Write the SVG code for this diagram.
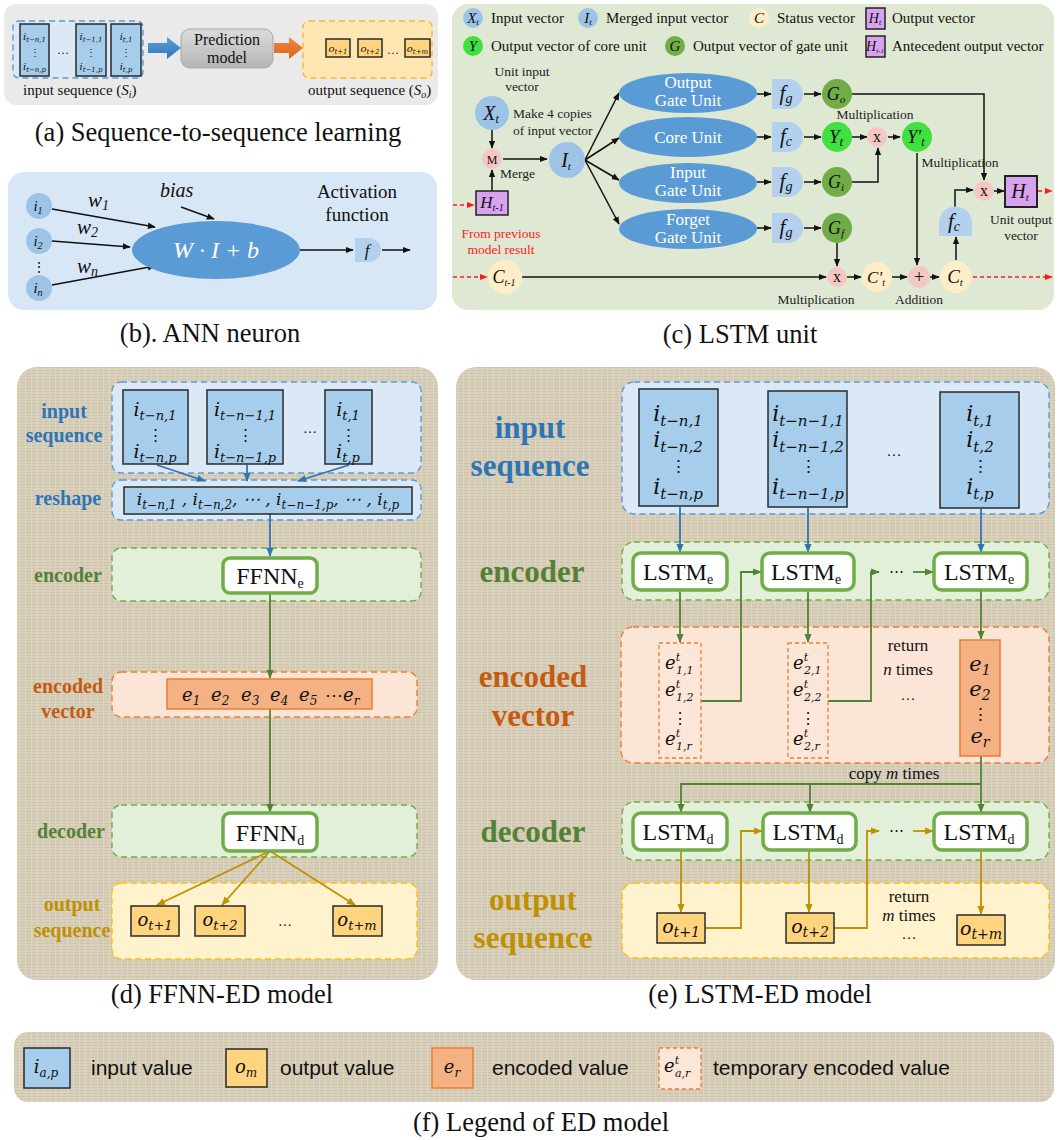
<svg xmlns="http://www.w3.org/2000/svg" width="1058" height="1140" viewBox="0 0 1058 1140">
<defs>
<style>
text{fill:#111}
.t{font-family:"Liberation Serif","Times New Roman",serif}
.mi{font-family:"DejaVu Serif",serif;font-style:italic}
.ti{font-family:"Liberation Serif",serif;font-style:italic}
.title{font-family:"Liberation Serif",serif;font-size:26.5px;text-anchor:middle}
.c{text-anchor:middle}
.lg{font-family:"Liberation Serif",serif;font-size:15px}
.sm{font-family:"Liberation Serif",serif;font-size:13.5px;fill:#222}
.ld{font-family:"Liberation Serif",serif;font-weight:bold;font-size:20px;text-anchor:middle}
.le{font-family:"Liberation Serif",serif;font-weight:bold;font-size:31px;text-anchor:middle}
.fl{font-family:"Liberation Sans",Arial,sans-serif;font-size:21px}
.blu{fill:#2e75b6}.grn{fill:#548235}.org{fill:#c55a11}.gld{fill:#bf9000}.red{fill:#ff1a1a}.wht{fill:#fff}
.cellb{fill:#a6cdeb;stroke:#2a2a2a;stroke-width:1.5}
.celly{fill:#ffd47e;stroke:#2a2a2a;stroke-width:1.5}
.cello{fill:#f4b183;stroke:#ed7d31;stroke-width:1.5}
.cellt{fill:#fce6d8;stroke:#ed7d31;stroke-width:1.3;stroke-dasharray:4 3}
.zb{fill:#dbe8f6;stroke:#5b9bd5;stroke-width:1.4;stroke-dasharray:6 4}
.zg{fill:#e2efd9;stroke:#70ad47;stroke-width:1.4;stroke-dasharray:6 4}
.zo{fill:#fbe5d6;stroke:#ed7d31;stroke-width:1.4;stroke-dasharray:6 4}
.zy{fill:#fff2cc;stroke:#ffc000;stroke-width:1.4;stroke-dasharray:6 4}
.lstm{fill:#fff;stroke:#70ad47;stroke-width:3.5}
.k{fill:none;stroke:#111;stroke-width:1.5}
.cb{fill:none;stroke:#2e75b6;stroke-width:1.8}
.cg{fill:none;stroke:#548235;stroke-width:1.8}
.cy{fill:none;stroke:#bf9000;stroke-width:1.8}
.rd{fill:none;stroke:#ff1a1a;stroke-width:1.5;stroke-dasharray:4 3}
.vec{fill:#9dc3e6}
.pk{fill:#f4c7c3}
.st{fill:#fdeec8}
.gg{fill:#70ad47}
.gy{fill:#3fe03f}
.hp{fill:#d9a2ee;stroke:#222;stroke-width:1.5}
.fb{fill:#b4d0ef}
.ell{fill:#5b9bd5}
</style>
<marker id="ak" viewBox="0 0 10 10" refX="9" refY="5" markerWidth="8" markerHeight="8" markerUnits="userSpaceOnUse" orient="auto"><path d="M0,1 L10,5 L0,9 z" fill="#111"/></marker>
<marker id="ab" viewBox="0 0 10 10" refX="9" refY="5" markerWidth="9" markerHeight="9" markerUnits="userSpaceOnUse" orient="auto"><path d="M0,1 L10,5 L0,9 z" fill="#2e75b6"/></marker>
<marker id="ag" viewBox="0 0 10 10" refX="9" refY="5" markerWidth="9" markerHeight="9" markerUnits="userSpaceOnUse" orient="auto"><path d="M0,1 L10,5 L0,9 z" fill="#548235"/></marker>
<marker id="ay" viewBox="0 0 10 10" refX="9" refY="5" markerWidth="9" markerHeight="9" markerUnits="userSpaceOnUse" orient="auto"><path d="M0,1 L10,5 L0,9 z" fill="#bf9000"/></marker>
<marker id="ar" viewBox="0 0 10 10" refX="9" refY="5" markerWidth="8" markerHeight="8" markerUnits="userSpaceOnUse" orient="auto"><path d="M0,1 L10,5 L0,9 z" fill="#ff1a1a"/></marker>
<pattern id="burlap" width="6" height="6" patternUnits="userSpaceOnUse">
<rect width="6" height="6" fill="#d8cfbb"/>
<path d="M0,1.5H6M0,4.5H6" stroke="#cdc3ac" stroke-width="0.9"/>
<path d="M1.5,0V6" stroke="#e0d8c6" stroke-width="0.7"/>
</pattern>
<linearGradient id="gpred" x1="0" y1="0" x2="0" y2="1"><stop offset="0" stop-color="#dcdcdc"/><stop offset="1" stop-color="#b5b5b5"/></linearGradient>
<linearGradient id="gblue" x1="0" y1="0" x2="0" y2="1"><stop offset="0" stop-color="#5ea2dc"/><stop offset="1" stop-color="#2f74b5"/></linearGradient>
<linearGradient id="gorg" x1="0" y1="0" x2="0" y2="1"><stop offset="0" stop-color="#f28a40"/><stop offset="1" stop-color="#d9621c"/></linearGradient>
</defs>

<rect width="1058" height="1140" fill="#fff"/>

<!-- (a) sequence-to-sequence learning -->
<g id="panel-a">
<rect x="4" y="4" width="434" height="101" rx="12" fill="#eaeaea"/>
<g id="a-input">
<rect class="zb" x="13" y="21" width="130" height="57" rx="6"/>
<rect class="cellb" x="20" y="24" width="29" height="52"/>
<rect class="cellb" x="76" y="24" width="30" height="52"/>
<rect class="cellb" x="111" y="24" width="30" height="52"/>
<text class="mi c" x="34.5" y="40" font-size="10">i<tspan font-size="7" dy="2">t−n,1</tspan></text>
<text class="t c" x="34.5" y="56" font-size="10">⋮</text>
<text class="mi c" x="34.5" y="70" font-size="10">i<tspan font-size="7" dy="2">t−n,p</tspan></text>
<text class="t c" x="63" y="54" font-size="12" fill="#444">…</text>
<text class="mi c" x="91" y="40" font-size="10">i<tspan font-size="7" dy="2">t−1,1</tspan></text>
<text class="t c" x="91" y="56" font-size="10">⋮</text>
<text class="mi c" x="91" y="70" font-size="10">i<tspan font-size="7" dy="2">t−1,p</tspan></text>
<text class="mi c" x="126" y="40" font-size="10">i<tspan font-size="7" dy="2">t,1</tspan></text>
<text class="t c" x="126" y="56" font-size="10">⋮</text>
<text class="mi c" x="126" y="70" font-size="10">i<tspan font-size="7" dy="2">t,p</tspan></text>
<text class="t" x="23" y="95" font-size="15">input sequence (<tspan class="ti">S</tspan><tspan class="ti" font-size="10" dy="3">i</tspan><tspan dy="-3">)</tspan></text>
</g>
<polygon id="a-arrow-in" points="148,43 167,43 167,37 181,48 167,59 167,53 148,53" fill="url(#gblue)"/>
<g id="a-model">
<rect x="181" y="29" width="92" height="39" rx="9" fill="url(#gpred)" stroke="#a8a8a8"/>
<text class="t c" x="227" y="45" font-size="16">Prediction</text>
<text class="t c" x="227" y="63" font-size="16">model</text>
</g>
<polygon id="a-arrow-out" points="274,43 289,43 289,37 303,48 289,59 289,53 274,53" fill="url(#gorg)"/>
<g id="a-output">
<rect class="zy" x="303" y="21" width="129" height="57" rx="6" style="fill:#fde6b2;stroke:#f8bb28"/>
<rect class="celly" x="326" y="39" width="24" height="18"/>
<rect class="celly" x="358" y="39" width="24" height="18"/>
<rect class="celly" x="405" y="39" width="25" height="18"/>
<text class="mi c" x="338" y="52" font-size="10">o<tspan font-size="7" dy="2">t+1</tspan></text>
<text class="mi c" x="370" y="52" font-size="10">o<tspan font-size="7" dy="2">t+2</tspan></text>
<text class="mi c" x="417.5" y="52" font-size="10">o<tspan font-size="7" dy="2">t+m</tspan></text>
<text class="t c" x="393" y="54" font-size="12" fill="#444">…</text>
<text class="t" x="308" y="95" font-size="15">output sequence (<tspan class="ti">S</tspan><tspan class="ti" font-size="10" dy="3">o</tspan><tspan dy="-3">)</tspan></text>
</g>
<text class="title" x="218" y="141">(a) Sequence-to-sequence learning</text>
</g>

<!-- (b) ANN neuron -->
<g id="panel-b">
<rect x="8" y="172" width="429" height="138" rx="16" fill="#d8e7f5"/>
<g id="b-connectors">
<path class="k" d="M52,209 L155,227" marker-end="url(#ak)"/>
<path class="k" d="M52,241 L130,247" marker-end="url(#ak)"/>
<path class="k" d="M52,285 L155,266" marker-end="url(#ak)"/>
<path class="k" d="M181,207 L214,219" marker-end="url(#ak)"/>
<path class="k" d="M300,250 L353,250" marker-end="url(#ak)"/>
<path class="k" d="M382,250 L410,250" marker-end="url(#ak)"/>
</g>
<g id="b-inputs">
<circle class="vec" cx="39" cy="206" r="13"/>
<circle class="vec" cx="39" cy="241" r="13"/>
<circle class="vec" cx="39" cy="288" r="13"/>
<text class="ti c" x="38" y="211" font-size="15">i<tspan font-size="10" dy="3">1</tspan></text>
<text class="ti c" x="38" y="246" font-size="15">i<tspan font-size="10" dy="3">2</tspan></text>
<text class="ti c" x="38" y="293" font-size="15">i<tspan font-size="10" dy="3">n</tspan></text>
<text class="t c" x="39" y="272" font-size="14" fill="#666">⋮</text>
</g>
<text class="ti" x="88" y="207" font-size="21">w<tspan class="t" font-size="14" dy="3">1</tspan></text>
<text class="ti" x="77" y="234" font-size="21">w<tspan class="t" font-size="14" dy="3">2</tspan></text>
<text class="ti" x="77" y="273" font-size="21">w<tspan font-size="14" dy="3">n</tspan></text>
<text class="ti" x="160" y="197" font-size="20">bias</text>
<g id="b-neuron">
<ellipse class="ell" cx="216" cy="250" rx="84" ry="29"/>
<text class="ti c wht" x="216" y="258" font-size="24">W · I + b</text>
</g>
<text class="t c" x="357" y="198" font-size="19">Activation</text>
<text class="t c" x="357" y="221" font-size="19">function</text>
<g id="b-activation">
<path class="fb" d="M355,238 h14 a12,12 0 0 1 0,24 h-14 z"/>
<text class="ti c" x="367" y="256" font-size="17">f</text>
</g>
<text class="title" x="210" y="342">(b). ANN neuron</text>
</g>

<!-- (c) LSTM unit -->
<g id="panel-c">
<rect x="452" y="4" width="602" height="306" rx="16" fill="#dfe8d2"/>
<g id="c-legend">
<circle class="vec" cx="473" cy="18" r="10"/>
<text class="ti c" x="473" y="23" font-size="15">X<tspan class="t" font-size="9" dy="2">t</tspan></text>
<text class="lg" x="491" y="23">Input vector</text>
<circle class="vec" cx="588" cy="18" r="10"/>
<text class="ti c" x="588" y="23" font-size="15">I<tspan class="t" font-size="9" dy="2">t</tspan></text>
<text class="lg" x="606" y="23">Merged input vector</text>
<circle class="st" cx="759" cy="18" r="10"/>
<text class="ti c" x="759" y="23" font-size="15">C</text>
<text class="lg" x="777" y="23">Status vector</text>
<rect class="hp" x="866" y="8" width="19" height="21"/>
<text class="ti c" x="875" y="23" font-size="14">H<tspan font-size="8" dy="2">t</tspan></text>
<text class="lg" x="892" y="23">Output vector</text>
<circle class="gy" cx="473" cy="46" r="10"/>
<text class="ti c" x="473" y="51" font-size="15">Y</text>
<text class="lg" x="491" y="51">Output vector of core unit</text>
<circle class="gg" cx="675" cy="46" r="10"/>
<text class="ti c" x="675" y="51" font-size="15">G</text>
<text class="lg" x="693" y="51">Output vector of gate unit</text>
<rect class="hp" x="866" y="36" width="19" height="21"/>
<text class="ti c" x="875" y="51" font-size="14">H<tspan font-size="7" dy="2">t-1</tspan></text>
<text class="lg" x="892" y="51">Antecedent output vector</text>
</g>

<g id="c-connectors">
<path class="k" d="M492,130 V148" marker-end="url(#ak)"/>
<path class="k" d="M492,191 V170" marker-end="url(#ak)"/>
<path class="rd" d="M453,205 H474" marker-end="url(#ar)"/>
<path class="k" d="M503,159 H547" marker-end="url(#ak)"/>
<path class="k" d="M585,160 L619,93" marker-end="url(#ak)"/>
<path class="k" d="M585,160 L619,138" marker-end="url(#ak)"/>
<path class="k" d="M585,160 L619,180" marker-end="url(#ak)"/>
<path class="k" d="M585,160 L619,224" marker-end="url(#ak)"/>
<path class="k" d="M757,94 H771" marker-end="url(#ak)"/>
<path class="k" d="M757,137 H771" marker-end="url(#ak)"/>
<path class="k" d="M757,182 H771" marker-end="url(#ak)"/>
<path class="k" d="M757,228 H771" marker-end="url(#ak)"/>
<path class="k" d="M804,94 H821" marker-end="url(#ak)"/>
<path class="k" d="M804,137 H821" marker-end="url(#ak)"/>
<path class="k" d="M804,182 H821" marker-end="url(#ak)"/>
<path class="k" d="M804,228 H821" marker-end="url(#ak)"/>
<path class="k" d="M852,137 H867" marker-end="url(#ak)"/>
<path class="k" d="M888,137 H900" marker-end="url(#ak)"/>
<path class="k" d="M852,182 H878 V148" marker-end="url(#ak)"/>
<path class="k" d="M852,94 H984 V180" marker-end="url(#ak)"/>
<path class="k" d="M994,191 H1004" marker-end="url(#ak)"/>
<path class="rd" d="M1038,191 H1052" marker-end="url(#ar)"/>
<path class="k" d="M955,207 V190 H973" marker-end="url(#ak)"/>
<path class="k" d="M956,260 V237" marker-end="url(#ak)"/>
<path class="rd" d="M453,277 H487" marker-end="url(#ar)"/>
<path class="k" d="M522,277 H826" marker-end="url(#ak)"/>
<path class="k" d="M837,243 V266" marker-end="url(#ak)"/>
<path class="k" d="M847,277 H861" marker-end="url(#ak)"/>
<path class="k" d="M892,277 H907" marker-end="url(#ak)"/>
<path class="k" d="M917,153 V265" marker-end="url(#ak)"/>
<path class="k" d="M930,277 H939" marker-end="url(#ak)"/>
<path class="rd" d="M973,277 H1052" marker-end="url(#ar)"/>
</g>

<text class="sm c" x="522" y="76">Unit input</text>
<text class="sm c" x="522" y="91">vector</text>
<g id="c-xt"><circle class="vec" cx="492" cy="113" r="17"/><text class="ti c" x="491" y="120" font-size="20">X<tspan class="t" font-size="12" dy="3">t</tspan></text></g>
<text class="sm" x="513" y="118">Make 4 copies</text>
<text class="sm" x="513" y="135">of input vector</text>
<g id="c-merge"><circle class="pk" cx="492" cy="159" r="10"/><text class="t c" x="492" y="164" font-size="12">M</text></g>
<text class="sm" x="500" y="178">Merge</text>
<g id="c-hprev"><rect class="hp" x="476" y="191" width="32" height="24"/><text class="ti c" x="492" y="208" font-size="17">H<tspan font-size="10" dy="3">t-1</tspan></text></g>
<text class="sm c red" x="501" y="238">From previous</text>
<text class="sm c red" x="501" y="254">model result</text>
<g id="c-it"><circle class="vec" cx="567" cy="160" r="18"/><text class="ti c" x="566" y="167" font-size="20">I<tspan font-size="11" dy="3">t</tspan></text></g>

<g id="c-gate-o"><ellipse class="ell" cx="688" cy="93" rx="69" ry="20"/><text class="t c wht" x="688" y="88" font-size="17">Output</text><text class="t c wht" x="688" y="106" font-size="17">Gate Unit</text></g>
<g id="c-core"><ellipse class="ell" cx="688" cy="137" rx="69" ry="20"/><text class="t c wht" x="688" y="143" font-size="17">Core Unit</text></g>
<g id="c-gate-i"><ellipse class="ell" cx="688" cy="183" rx="69" ry="20"/><text class="t c wht" x="688" y="178" font-size="17">Input</text><text class="t c wht" x="688" y="196" font-size="17">Gate Unit</text></g>
<g id="c-gate-f"><ellipse class="ell" cx="688" cy="229" rx="69" ry="20"/><text class="t c wht" x="688" y="225" font-size="17">Forget</text><text class="t c wht" x="688" y="243" font-size="17">Gate Unit</text></g>

<g id="c-f1"><path class="fb" d="M772,79 h16 a15,15 0 0 1 0,30 h-16 z"/><text class="ti c" x="786" y="100" font-size="21">f<tspan font-size="14" dy="3">g</tspan></text></g>
<g id="c-f2"><path class="fb" d="M772,122 h16 a15,15 0 0 1 0,30 h-16 z"/><text class="ti c" x="786" y="143" font-size="21">f<tspan font-size="14" dy="3">c</tspan></text></g>
<g id="c-f3"><path class="fb" d="M772,167 h16 a15,15 0 0 1 0,30 h-16 z"/><text class="ti c" x="786" y="188" font-size="21">f<tspan font-size="14" dy="3">g</tspan></text></g>
<g id="c-f4"><path class="fb" d="M772,213 h16 a15,15 0 0 1 0,30 h-16 z"/><text class="ti c" x="786" y="234" font-size="21">f<tspan font-size="14" dy="3">g</tspan></text></g>

<g id="c-go"><circle class="gg" cx="837" cy="94" r="15"/><text class="ti c" x="836" y="100" font-size="18">G<tspan font-size="11" dy="3">o</tspan></text></g>
<g id="c-yt"><circle class="gy" cx="837" cy="137" r="15"/><text class="ti c" x="836" y="143" font-size="19">Y<tspan font-size="13" dy="3">t</tspan></text></g>
<g id="c-gi"><circle class="gg" cx="837" cy="182" r="15"/><text class="ti c" x="836" y="188" font-size="18">G<tspan font-size="11" dy="3">i</tspan></text></g>
<g id="c-gf"><circle class="gg" cx="837" cy="228" r="15"/><text class="ti c" x="836" y="234" font-size="18">G<tspan font-size="11" dy="3">f</tspan></text></g>
<g id="c-mul1"><circle class="pk" cx="877" cy="137" r="10"/><text class="t c" x="877" y="142" font-size="16">x</text></g>
<text class="sm c" x="875" y="119">Multiplication</text>
<g id="c-yt2"><circle class="gy" cx="917" cy="137" r="15"/><text class="ti c" x="916" y="143" font-size="18">Y′<tspan font-size="12" dy="3">t</tspan></text></g>
<text class="sm c" x="960" y="167">Multiplication</text>
<g id="c-mul2"><circle class="pk" cx="984" cy="191" r="10"/><text class="t c" x="984" y="196" font-size="16">x</text></g>
<g id="c-ht"><rect class="hp" x="1005" y="176" width="32" height="31" style="stroke-width:2"/><text class="ti c" x="1020" y="198" font-size="20">H<tspan font-size="11" dy="3">t</tspan></text></g>
<text class="sm c" x="1021" y="224">Unit output</text>
<text class="sm c" x="1021" y="240">vector</text>
<g id="c-fc"><path class="fb" d="M939,236 v-13 a16.5,16.5 0 0 1 33,0 v13 z"/><text class="ti c" x="954" y="228" font-size="21">f<tspan font-size="14" dy="3">c</tspan></text></g>
<g id="c-ct1"><circle class="st" cx="505" cy="277" r="17"/><text class="ti c" x="504" y="283" font-size="18">C<tspan font-size="10" dy="3">t-1</tspan></text></g>
<g id="c-mul3"><circle class="pk" cx="837" cy="277" r="10"/><text class="t c" x="837" y="282" font-size="16">x</text></g>
<g id="c-ctp"><circle class="st" cx="877" cy="277" r="15"/><text class="ti c" x="876" y="283" font-size="17">C′<tspan font-size="10" dy="3">t</tspan></text></g>
<g id="c-add"><circle class="pk" cx="919" cy="277" r="11"/><text class="t c" x="919" y="283" font-size="18">+</text></g>
<g id="c-ct"><circle class="st" cx="956" cy="277" r="16"/><text class="ti c" x="955" y="283" font-size="19">C<tspan font-size="11" dy="3">t</tspan></text></g>
<text class="sm c" x="816" y="304">Multiplication</text>
<text class="sm c" x="919" y="304">Addition</text>
<text class="title" x="740" y="343">(c) LSTM unit</text>
</g>

<!-- (d) FFNN-ED model -->
<g id="panel-d">
<rect x="17" y="367" width="421" height="613" rx="20" fill="url(#burlap)"/>
<rect class="zb" x="112" y="382" width="309" height="91" rx="9"/>
<rect class="zb" x="112" y="480" width="309" height="40" rx="9"/>
<rect class="zg" x="112" y="548" width="309" height="53" rx="9"/>
<rect class="zo" x="112" y="672" width="305" height="45" rx="9"/>
<rect class="zg" x="112" y="805" width="305" height="52" rx="9"/>
<rect class="zy" x="112" y="883" width="305" height="76" rx="9"/>
<text class="ld blu" x="64" y="418">input</text>
<text class="ld blu" x="64" y="442">sequence</text>
<text class="ld blu" x="68" y="505">reshape</text>
<text class="ld grn" x="68" y="582">encoder</text>
<text class="ld org" x="68" y="693">encoded</text>
<text class="ld org" x="68" y="718">vector</text>
<text class="ld grn" x="71" y="838">decoder</text>
<text class="ld gld" x="72" y="911">output</text>
<text class="ld gld" x="72" y="937">sequence</text>

<g id="d-connectors">
<path class="cb" d="M157,465 L205,481" marker-end="url(#ab)"/>
<path class="cb" d="M247,465 V481" marker-end="url(#ab)"/>
<path class="cb" d="M349,465 L298,481" marker-end="url(#ab)"/>
<path class="cb" d="M270,514 V556" marker-end="url(#ab)"/>
<path class="cg" d="M270,593 V678" marker-end="url(#ag)"/>
<path class="cg" d="M270,709 V812" marker-end="url(#ag)"/>
<path class="cy" d="M270,851 L157,905" marker-end="url(#ay)"/>
<path class="cy" d="M270,851 L222,905" marker-end="url(#ay)"/>
<path class="cy" d="M270,851 L355,905" marker-end="url(#ay)"/>
</g>

<g id="d-in1"><rect class="cellb" x="123" y="390" width="65" height="74"/>
<text class="mi c" x="155" y="416" font-size="19">i<tspan font-size="13" dy="4">t−n,1</tspan></text>
<text class="t c" x="155" y="440" font-size="15">⋮</text>
<text class="mi c" x="155" y="458" font-size="19">i<tspan font-size="13" dy="4">t−n,p</tspan></text></g>
<g id="d-in2"><rect class="cellb" x="207" y="390" width="76" height="74"/>
<text class="mi c" x="245" y="416" font-size="19">i<tspan font-size="13" dy="4">t−n−1,1</tspan></text>
<text class="t c" x="245" y="440" font-size="15">⋮</text>
<text class="mi c" x="245" y="458" font-size="19">i<tspan font-size="13" dy="4">t−n−1,p</tspan></text></g>
<text class="t c" x="310" y="433" font-size="14" fill="#555">…</text>
<g id="d-in3"><rect class="cellb" x="325" y="390" width="47" height="74"/>
<text class="mi c" x="348" y="416" font-size="19">i<tspan font-size="13" dy="4">t,1</tspan></text>
<text class="t c" x="348" y="440" font-size="15">⋮</text>
<text class="mi c" x="348" y="458" font-size="19">i<tspan font-size="13" dy="4">t,p</tspan></text></g>
<g id="d-reshape"><rect class="cellb" x="124" y="487" width="288" height="27"/>
<text class="mi c" x="268" y="505" font-size="17">i<tspan font-size="12" dy="4">t−n,1</tspan><tspan dy="-4"> , i</tspan><tspan font-size="12" dy="4">t−n,2</tspan><tspan dy="-4">, ⋯ , i</tspan><tspan font-size="12" dy="4">t−n−1,p</tspan><tspan dy="-4">, ⋯ , i</tspan><tspan font-size="12" dy="4">t,p</tspan></text></g>
<g id="d-ffnn-e"><rect class="lstm" x="223" y="558" width="94" height="35" rx="7"/>
<text class="t c" x="270" y="584" font-size="24">FFNN<tspan font-size="14" dy="4">e</tspan></text></g>
<g id="d-encoded"><rect class="cello" x="167" y="679" width="205" height="30"/>
<text class="mi" y="701" font-size="18"><tspan x="182">e</tspan><tspan font-size="12" dy="4">1</tspan><tspan x="211" dy="-4">e</tspan><tspan font-size="12" dy="4">2</tspan><tspan x="241" dy="-4">e</tspan><tspan font-size="12" dy="4">3</tspan><tspan x="270" dy="-4">e</tspan><tspan font-size="12" dy="4">4</tspan><tspan x="299" dy="-4">e</tspan><tspan font-size="12" dy="4">5</tspan><tspan x="325" dy="-4" font-style="normal">⋯</tspan><tspan x="343">e</tspan><tspan font-size="12" dy="4">r</tspan></text></g>
<g id="d-ffnn-d"><rect class="lstm" x="223" y="813" width="94" height="38" rx="7"/>
<text class="t c" x="270" y="841" font-size="24">FFNN<tspan font-size="14" dy="4">d</tspan></text></g>
<g id="d-o1"><rect class="celly" x="131" y="906" width="48" height="30"/><text class="mi c" x="155" y="926" font-size="18">o<tspan font-size="13" dy="4">t+1</tspan></text></g>
<g id="d-o2"><rect class="celly" x="195" y="906" width="50" height="30"/><text class="mi c" x="220" y="926" font-size="18">o<tspan font-size="13" dy="4">t+2</tspan></text></g>
<text class="t c" x="285" y="926" font-size="14" fill="#333">…</text>
<g id="d-om"><rect class="celly" x="333" y="906" width="49" height="30"/><text class="mi c" x="357" y="926" font-size="18">o<tspan font-size="13" dy="4">t+m</tspan></text></g>
<text class="title" x="222" y="1003">(d) FFNN-ED model</text>
</g>

<!-- (e) LSTM-ED model -->
<g id="panel-e">
<rect x="456" y="367" width="599" height="613" rx="20" fill="url(#burlap)"/>
<rect class="zb" x="622" y="382" width="427" height="132" rx="12"/>
<rect class="zg" x="622" y="542" width="427" height="58" rx="12"/>
<rect class="zo" x="621" y="627" width="428" height="136" rx="12"/>
<rect class="zg" x="622" y="802" width="427" height="58" rx="12"/>
<rect class="zy" x="622" y="883" width="427" height="75" rx="12"/>
<text class="le blu" x="530" y="438">input</text>
<text class="le blu" x="530" y="476">sequence</text>
<text class="le grn" x="532" y="582">encoder</text>
<text class="le org" x="533" y="687">encoded</text>
<text class="le org" x="533" y="726">vector</text>
<text class="le grn" x="533" y="842">decoder</text>
<text class="le gld" x="533" y="910">output</text>
<text class="le gld" x="533" y="948">sequence</text>

<g id="e-connectors">
<path class="cb" d="M680,507 V552" marker-end="url(#ab)"/>
<path class="cb" d="M808,508 V552" marker-end="url(#ab)"/>
<path class="cb" d="M981,509 V552" marker-end="url(#ab)"/>
<path class="cg" d="M680,590 V642" marker-end="url(#ag)"/>
<path class="cg" d="M808,590 V642" marker-end="url(#ag)"/>
<path class="cg" d="M981,590 V639" marker-end="url(#ag)"/>
<path class="cg" d="M701,701 H741 V572 H761" marker-end="url(#ag)"/>
<path class="cg" d="M828,701 H871 V572 H879" marker-end="url(#ag)"/>
<path class="cg" d="M913,572 H933" marker-end="url(#ag)"/>
<path class="cg" d="M981,756 V812" marker-end="url(#ag)"/>
<path class="cg" d="M981,784 H681 V812" marker-end="url(#ag)"/>
<path class="cg" d="M810,784 V812" marker-end="url(#ag)"/>
<path class="cy" d="M681,850 V912" marker-end="url(#ay)"/>
<path class="cy" d="M809,850 V912" marker-end="url(#ay)"/>
<path class="cy" d="M981,850 V914" marker-end="url(#ay)"/>
<path class="cy" d="M705,928 H741 V831 H762" marker-end="url(#ay)"/>
<path class="cy" d="M834,928 H867 V831 H879" marker-end="url(#ay)"/>
<path class="cy" d="M913,831 H933" marker-end="url(#ay)"/>
</g>
<text class="t c" x="896" y="576" font-size="15" fill="#333">⋯</text>
<text class="t c" x="896" y="835" font-size="15" fill="#333">⋯</text>

<g id="e-in1"><rect class="cellb" x="639" y="389" width="79" height="117"/>
<text class="mi c" x="678" y="421" font-size="22">i<tspan font-size="15" dy="5">t−n,1</tspan></text>
<text class="mi c" x="678" y="447" font-size="22">i<tspan font-size="15" dy="5">t−n,2</tspan></text>
<text class="t c" x="678" y="472" font-size="17">⋮</text>
<text class="mi c" x="678" y="494" font-size="22">i<tspan font-size="15" dy="5">t−n,p</tspan></text></g>
<g id="e-in2"><rect class="cellb" x="768" y="391" width="79" height="116"/>
<text class="mi c" x="808" y="421" font-size="22">i<tspan font-size="15" dy="5">t−n−1,1</tspan></text>
<text class="mi c" x="808" y="447" font-size="22">i<tspan font-size="15" dy="5">t−n−1,2</tspan></text>
<text class="t c" x="808" y="472" font-size="17">⋮</text>
<text class="mi c" x="808" y="494" font-size="22">i<tspan font-size="15" dy="5">t−n−1,p</tspan></text></g>
<text class="t c" x="894" y="456" font-size="15" fill="#555">…</text>
<g id="e-in3"><rect class="cellb" x="940" y="392" width="79" height="116"/>
<text class="mi c" x="980" y="421" font-size="22">i<tspan font-size="15" dy="5">t,1</tspan></text>
<text class="mi c" x="980" y="447" font-size="22">i<tspan font-size="15" dy="5">t,2</tspan></text>
<text class="t c" x="980" y="472" font-size="17">⋮</text>
<text class="mi c" x="980" y="494" font-size="22">i<tspan font-size="15" dy="5">t,p</tspan></text></g>

<g id="e-enc1"><rect class="lstm" x="633" y="553" width="94" height="37" rx="8"/><text class="t c" x="678" y="580" font-size="24">LSTM<tspan font-size="14" dy="4">e</tspan></text></g>
<g id="e-enc2"><rect class="lstm" x="762" y="553" width="92" height="37" rx="8"/><text class="t c" x="806" y="580" font-size="24">LSTM<tspan font-size="14" dy="4">e</tspan></text></g>
<g id="e-enc3"><rect class="lstm" x="934" y="553" width="93" height="37" rx="8"/><text class="t c" x="979" y="580" font-size="24">LSTM<tspan font-size="14" dy="4">e</tspan></text></g>

<g id="e-tmp1"><rect class="cellt" x="659" y="643" width="42" height="115"/>
<text class="mi" x="665" y="669" font-size="18">e<tspan font-size="11" dy="-8">t</tspan><tspan font-size="11" x="676" dy="13">1,1</tspan></text>
<text class="mi" x="665" y="696" font-size="18">e<tspan font-size="11" dy="-8">t</tspan><tspan font-size="11" x="676" dy="13">1,2</tspan></text>
<text class="t c" x="680" y="724" font-size="16">⋮</text>
<text class="mi" x="665" y="745" font-size="18">e<tspan font-size="11" dy="-8">t</tspan><tspan font-size="11" x="676" dy="13">1,r</tspan></text></g>
<g id="e-tmp2"><rect class="cellt" x="788" y="643" width="40" height="115"/>
<text class="mi" x="793" y="669" font-size="18">e<tspan font-size="11" dy="-8">t</tspan><tspan font-size="11" x="804" dy="13">2,1</tspan></text>
<text class="mi" x="793" y="696" font-size="18">e<tspan font-size="11" dy="-8">t</tspan><tspan font-size="11" x="804" dy="13">2,2</tspan></text>
<text class="t c" x="808" y="724" font-size="16">⋮</text>
<text class="mi" x="793" y="745" font-size="18">e<tspan font-size="11" dy="-8">t</tspan><tspan font-size="11" x="804" dy="13">2,r</tspan></text></g>
<text class="t c" x="908" y="651" font-size="17">return</text>
<text class="t c" x="908" y="675" font-size="17"><tspan font-style="italic">n</tspan> times</text>
<text class="t c" x="908" y="700" font-size="15" fill="#333">…</text>
<g id="e-encoded"><rect class="cello" x="960" y="640" width="40" height="116"/>
<text class="mi c" x="980" y="671" font-size="21">e<tspan font-size="14" dy="4">1</tspan></text>
<text class="mi c" x="980" y="696" font-size="21">e<tspan font-size="14" dy="4">2</tspan></text>
<text class="t c" x="980" y="720" font-size="17">⋮</text>
<text class="mi c" x="980" y="743" font-size="21">e<tspan font-size="14" dy="4">r</tspan></text></g>
<text class="t c" x="894" y="779" font-size="17">copy <tspan font-style="italic">m</tspan> times</text>

<g id="e-dec1"><rect class="lstm" x="633" y="813" width="94" height="37" rx="8"/><text class="t c" x="678" y="840" font-size="24">LSTM<tspan font-size="14" dy="4">d</tspan></text></g>
<g id="e-dec2"><rect class="lstm" x="763" y="813" width="93" height="37" rx="8"/><text class="t c" x="808" y="840" font-size="24">LSTM<tspan font-size="14" dy="4">d</tspan></text></g>
<g id="e-dec3"><rect class="lstm" x="934" y="813" width="93" height="37" rx="8"/><text class="t c" x="979" y="840" font-size="24">LSTM<tspan font-size="14" dy="4">d</tspan></text></g>

<g id="e-o1"><rect class="celly" x="657" y="913" width="48" height="30"/><text class="mi c" x="681" y="933" font-size="19">o<tspan font-size="14" dy="4">t+1</tspan></text></g>
<g id="e-o2"><rect class="celly" x="786" y="913" width="48" height="30"/><text class="mi c" x="810" y="933" font-size="19">o<tspan font-size="14" dy="4">t+2</tspan></text></g>
<text class="t c" x="909" y="902" font-size="17">return</text>
<text class="t c" x="909" y="921" font-size="17"><tspan font-style="italic">m</tspan> times</text>
<text class="t c" x="909" y="939" font-size="15" fill="#333">…</text>
<g id="e-om"><rect class="celly" x="957" y="915" width="48" height="30"/><text class="mi c" x="981" y="935" font-size="19">o<tspan font-size="14" dy="4">t+m</tspan></text></g>
<text class="title" x="760" y="1003">(e) LSTM-ED model</text>
</g>

<!-- (f) legend -->
<g id="panel-f">
<rect x="14" y="1032" width="1040" height="70" rx="14" fill="url(#burlap)"/>
<g id="f-input"><rect class="cellb" x="24" y="1048" width="46" height="40"/><text class="mi c" x="46" y="1073" font-size="18">i<tspan font-size="12" dy="4">a,p</tspan></text></g>
<text class="fl" x="91" y="1075">input value</text>
<g id="f-output"><rect class="celly" x="226" y="1049" width="41" height="38"/><text class="mi c" x="246" y="1073" font-size="18">o<tspan font-size="12" dy="4">m</tspan></text></g>
<text class="fl" x="280" y="1075">output value</text>
<g id="f-encoded"><rect class="cello" x="432" y="1048" width="41" height="40"/><text class="mi c" x="452" y="1073" font-size="18">e<tspan font-size="12" dy="4">r</tspan></text></g>
<text class="fl" x="492" y="1075">encoded value</text>
<g id="f-temp"><rect class="cellt" x="659" y="1048" width="42" height="41"/><text class="mi" x="664" y="1072" font-size="18">e<tspan font-size="11" dy="-8">t</tspan><tspan font-size="11" x="675" dy="13">a,r</tspan></text></g>
<text class="fl" x="713" y="1075">temporary encoded value</text>
<text class="title" x="541" y="1131">(f) Legend of ED model</text>
</g>
</svg>
